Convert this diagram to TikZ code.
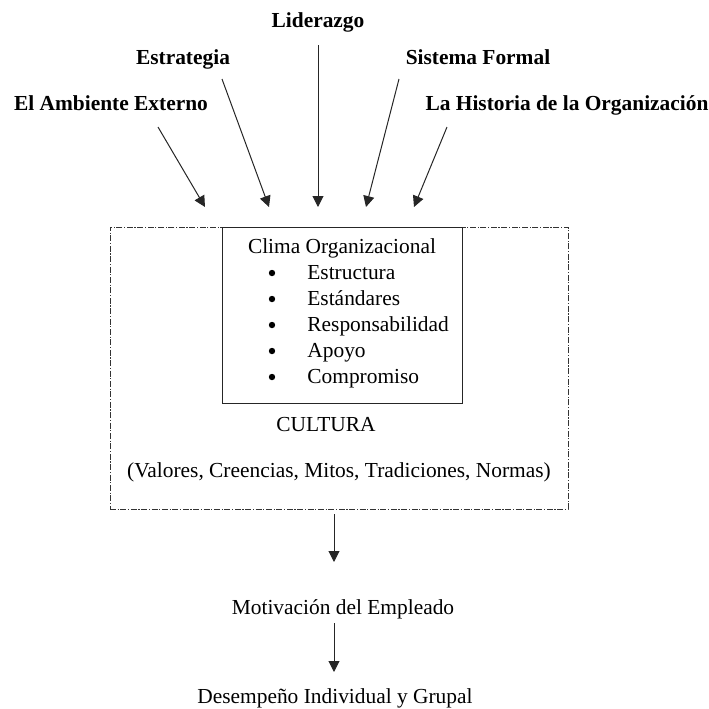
\documentclass[tikz,border=0pt]{standalone}
\usepackage{fontspec}
\setmainfont{Liberation Serif}
\usetikzlibrary{arrows.meta}
\begin{document}
\begin{tikzpicture}[x=0.5pt,y=-0.5pt,
  every node/.style={inner sep=0pt,anchor=base,font=\fontsize{10.7}{13}\selectfont},
  src/.style={font=\fontsize{10.7}{13}\selectfont\bfseries},
  arr/.style={draw=black!85,line width=0.5pt,-{Triangle[length=5.5pt,width=5.5pt]}},
  dashbox/.style={draw=black!80,line width=0.4pt,dash pattern=on 3pt off 0.8pt on 0.6pt off 0.8pt},
  itm/.style={anchor=base west},
  dot/.style={circle,fill=black,minimum size=3.2pt,anchor=center}]
\useasboundingbox (0,0) rectangle (709,709);
% sources
\node[src] (lid) at (318,27) {Liderazgo};
\node[src] (est) at (183,64) {Estrategia};
\node[src] (sis) at (478,64) {Sistema Formal};
\node[src] (amb) at (111,110) {El Ambiente Externo};
\node[src] (his) at (567,110) {La Historia de la Organización};
% arrow start/end points
\coordinate (lidS) at (318,45);  \coordinate (lidE) at (318,207);
\coordinate (estS) at (222,79);  \coordinate (estE) at (269,207);
\coordinate (ambS) at (158,127); \coordinate (ambE) at (205,207);
\coordinate (sisS) at (399,79);  \coordinate (sisE) at (366,207);
\coordinate (hisS) at (447,127); \coordinate (hisE) at (414,207);
\draw[arr] (lidS) -- (lidE);
\draw[arr] (estS) -- (estE);
\draw[arr] (ambS) -- (ambE);
\draw[arr] (sisS) -- (sisE);
\draw[arr] (hisS) -- (hisE);
% outer culture box
\node[dashbox,anchor=center,minimum width=229pt,minimum height=141pt] (cult) at (339,368) {};
% inner climate box
\node[draw=black!85,line width=0.5pt,anchor=center,minimum width=120pt,minimum height=88pt] (clima) at (342,315) {};
\node (ct) at (342,253) {Clima Organizacional};
\foreach \t/\y [count=\i] in {Estructura/279,Estándares/305,Responsabilidad/331,Apoyo/357,Compromiso/383}{
  \node[dot] (b\i) at (272,\y-6) {};
  \node[itm] (i\i) at (307,\y) {\t};
}
\node (cul) at (326,431) {CULTURA};
\node (val) at (339,477) {(Valores, Creencias, Mitos, Tradiciones, Normas)};
% bottom chain
\coordinate (a1S) at (334,514); \coordinate (a1E) at (334,562);
\draw[arr] (a1S) -- (a1E);
\node (mot) at (343,614) {Motivación del Empleado};
\coordinate (a2S) at (334,623); \coordinate (a2E) at (334,672);
\draw[arr] (a2S) -- (a2E);
\node (des) at (335,703) {Desempeño Individual y Grupal};
\end{tikzpicture}
\end{document}
